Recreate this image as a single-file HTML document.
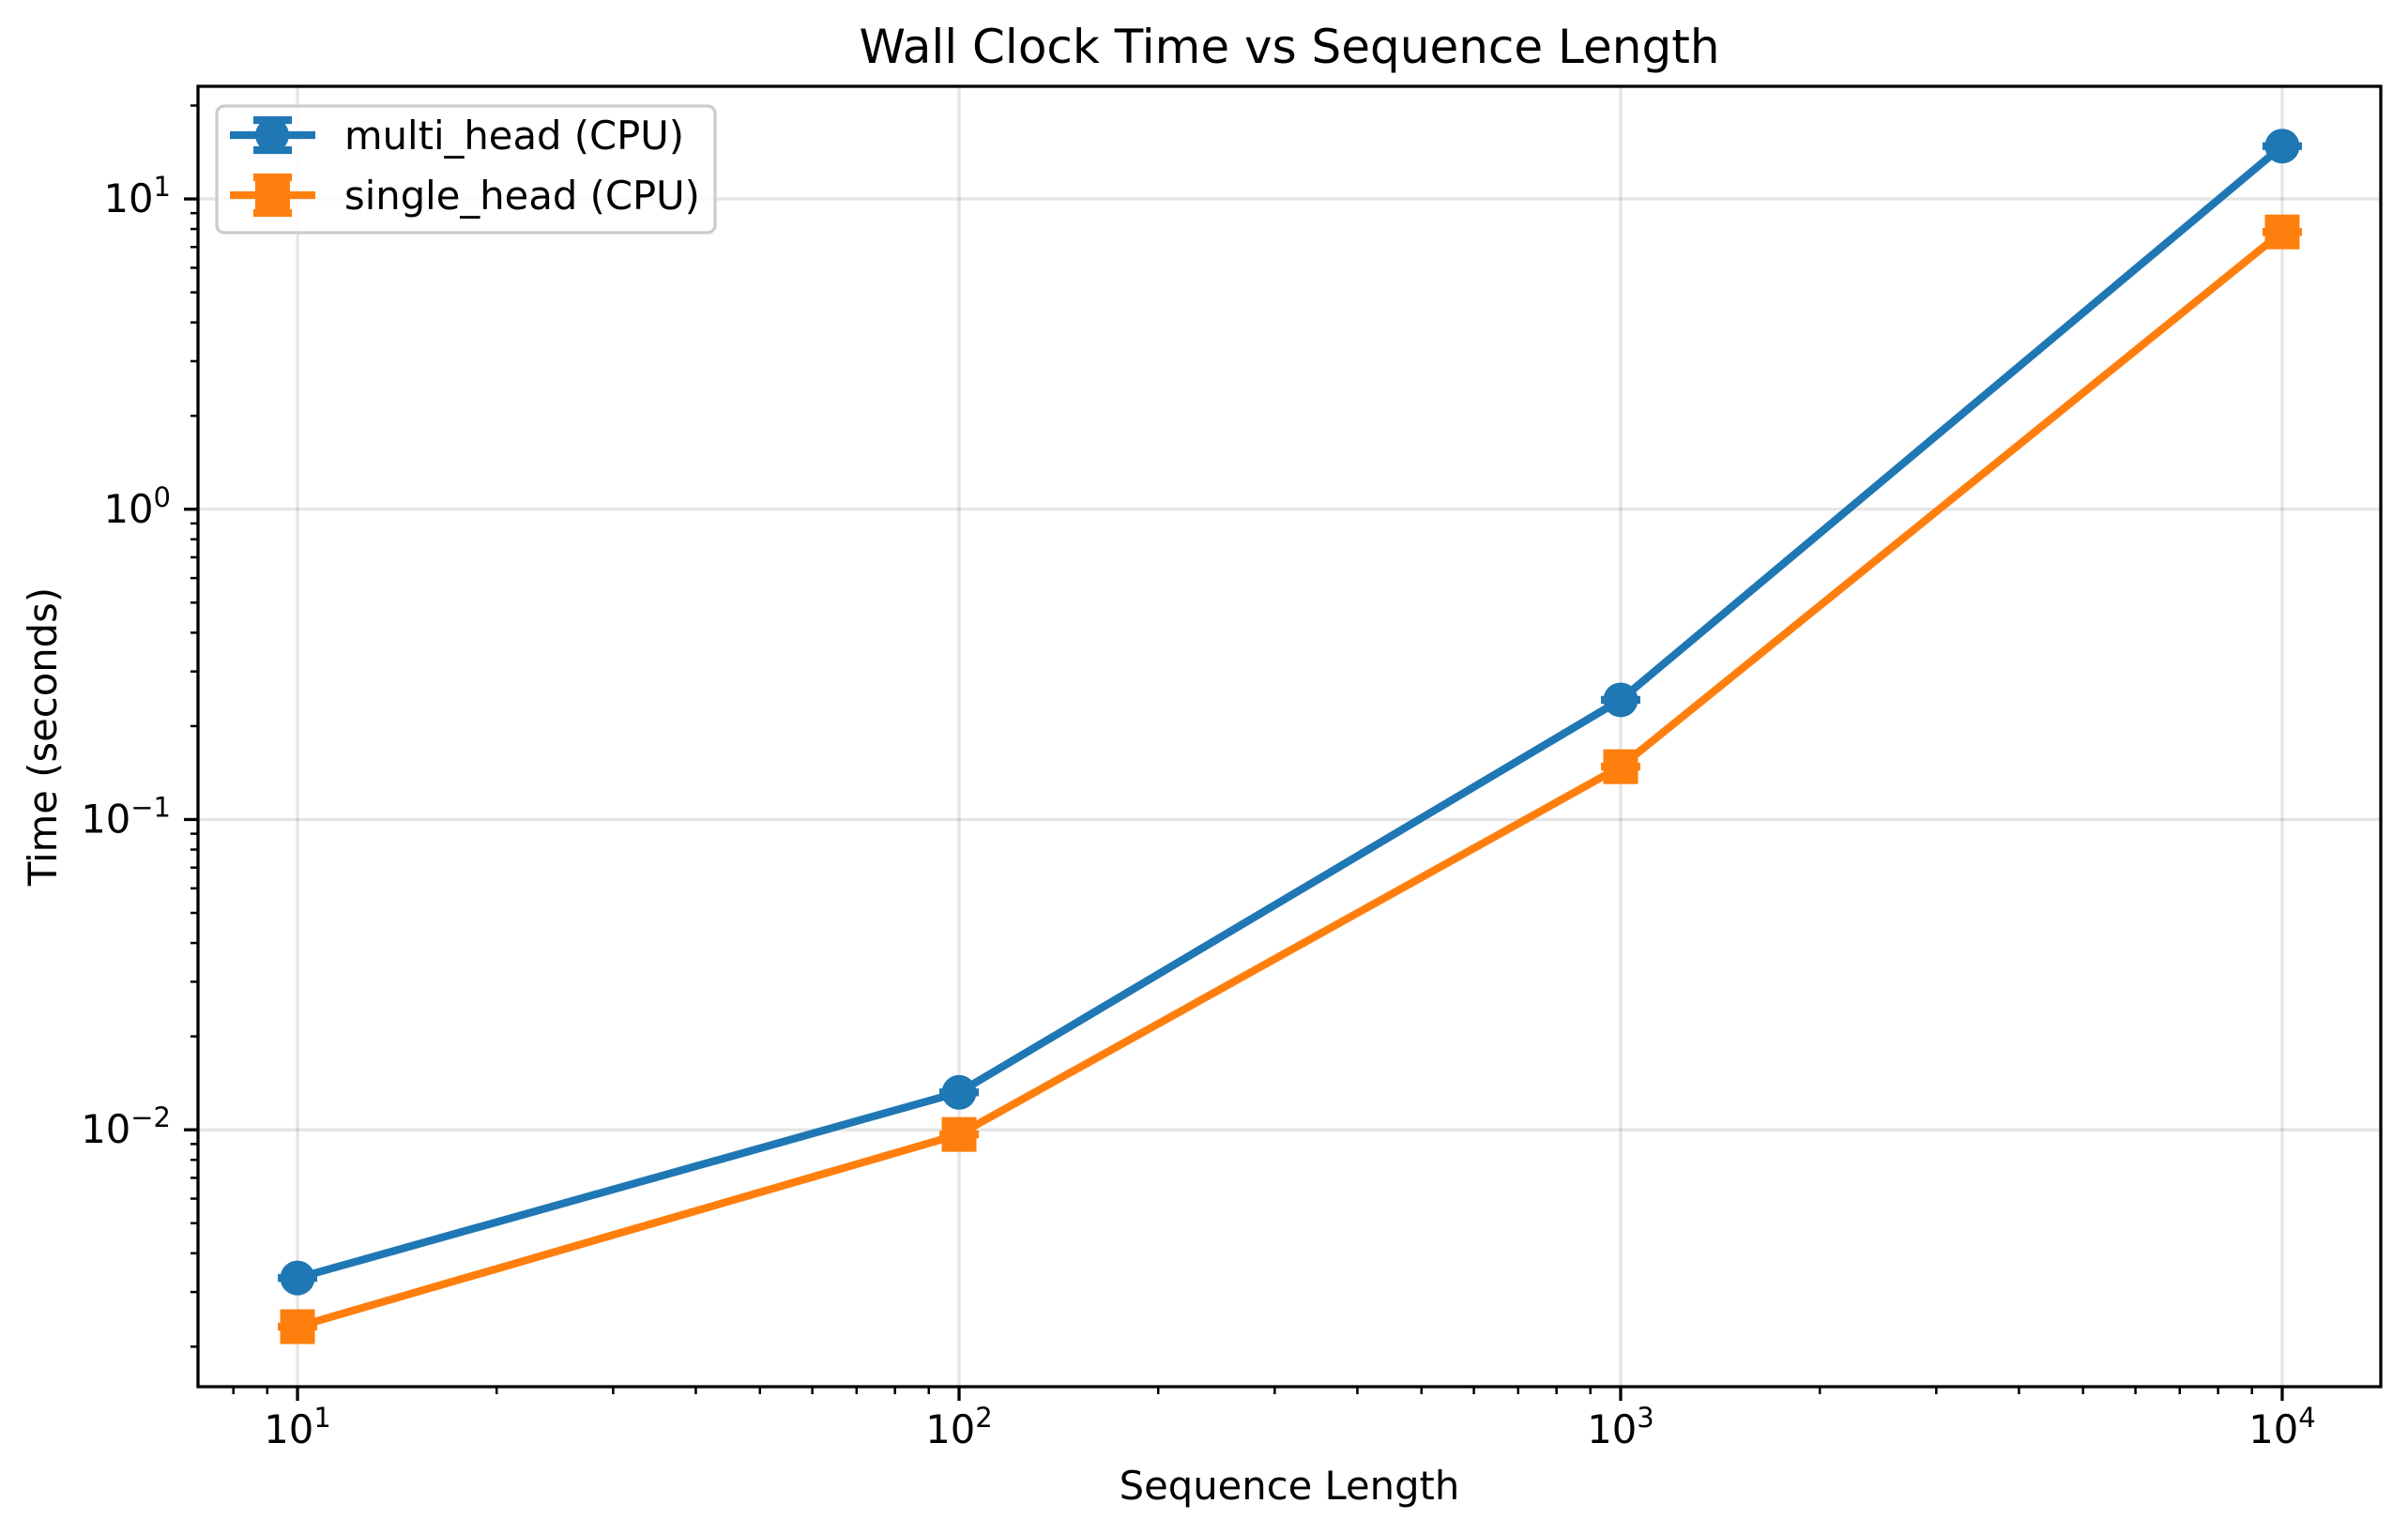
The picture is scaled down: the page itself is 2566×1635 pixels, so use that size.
<!DOCTYPE html>
<html><head><meta charset="utf-8"><style>
html,body{margin:0;padding:0;background:#fff;}
svg{display:block;font-family:"DejaVu Sans","Liberation Sans",sans-serif;}
</style></head><body>
<svg id="chart" width="2566" height="1635" viewBox="0 0 2566 1635">
<rect width="2566" height="1635" fill="#fff"/>
<g id="grid"></g>
<g id="series"></g>
<rect x="211" y="92" width="2326" height="1386" fill="none" stroke="#000" stroke-width="3.3"/>
<g id="ticks"></g>
<text x="1374" y="67" font-size="50" text-anchor="middle">Wall Clock Time vs Sequence Length</text>
<text x="1374" y="1598" font-size="41.7" text-anchor="middle">Sequence Length</text>
<text transform="translate(60,785) rotate(-90)" font-size="41.7" text-anchor="middle">Time (seconds)</text>
<g>
<rect x="231" y="113" width="531" height="135" rx="8" fill="#fff" fill-opacity="0.8" stroke="#ccc" stroke-width="3.3"/>
<g>
<line x1="245" y1="144" x2="336" y2="144" stroke="#1f77b4" stroke-width="8.3"/>
<line x1="290" y1="128" x2="290" y2="160" stroke="#1f77b4" stroke-width="8.3"/>
<line x1="270" y1="128" x2="311" y2="128" stroke="#1f77b4" stroke-width="8.3"/>
<line x1="270" y1="160" x2="311" y2="160" stroke="#1f77b4" stroke-width="8.3"/>
<circle cx="290" cy="144" r="18" fill="#1f77b4"/>
<text x="367" y="159" font-size="41.7">multi_head (CPU)</text>
</g>
<g>
<line x1="245" y1="208" x2="336" y2="208" stroke="#ff7f0e" stroke-width="8.3"/>
<line x1="270" y1="189" x2="311" y2="189" stroke="#ff7f0e" stroke-width="8.3"/>
<line x1="270" y1="227" x2="311" y2="227" stroke="#ff7f0e" stroke-width="8.3"/>
<rect x="272" y="190" width="37" height="37" fill="#ff7f0e"/>
<text x="367" y="223" font-size="41.7">single_head (CPU)</text>
</g>
</g>
</svg>
<script>
const categories = [10, 100, 1000, 10000];
const multiHead = [0.00333, 0.0132, 0.243, 14.8];
const singleHead = [0.00232, 0.00966, 0.148, 7.83];
const xTickLabels = ["1", "2", "3", "4"];
const yTickLabels = ["-2", "-1", "0", "1"];

const L=211,R=2537,T=92,B=1478;
const xmin=0.8496,xmax=4.149,ymin=-2.828,ymax=1.363;
const NS="http://www.w3.org/2000/svg";
function sx(v){return L+(Math.log10(v)-xmin)/(xmax-xmin)*(R-L);}
function sy(v){return B-(Math.log10(v)-ymin)/(ymax-ymin)*(B-T);}
function mk(tag,attrs,parent){const e=document.createElementNS(NS,tag);for(const k in attrs)e.setAttribute(k,attrs[k]);parent.appendChild(e);return e;}
const grid=document.getElementById('grid'),ticks=document.getElementById('ticks'),ser=document.getElementById('series');

xTickLabels.forEach(p=>{
  const v=Math.pow(10,+p),x=sx(v);
  const g=mk('line',{x1:x,y1:T,x2:x,y2:B,stroke:'#000','stroke-opacity':0.1,'stroke-width':3.3},grid);
  
  
  const t=mk('line',{x1:x,y1:B,x2:x,y2:B+15,stroke:'#000','stroke-width':3.3},ticks);
  
  
  const tx=mk('text',{x:x,y:1538,'font-size':41.7,'text-anchor':'middle'},ticks);
  
  
  tx.innerHTML='10<tspan dy="-17" font-size="29">'+p+'</tspan>';
});
for(let d=0;d<=4;d++)for(let m=2;m<=9;m++){
  const v=m*Math.pow(10,d),x=sx(v);if(x<L||x>R)continue;
  const t=mk('line',{x1:x,y1:B,x2:x,y2:B+8,stroke:'#000','stroke-width':2.5},ticks);
  
  
}
yTickLabels.forEach(p=>{
  const v=Math.pow(10,+p),y=sy(v);
  const g=mk('line',{x1:L,y1:y,x2:R,y2:y,stroke:'#000','stroke-opacity':0.1,'stroke-width':3.3},grid);
  
  
  const t=mk('line',{x1:L-15,y1:y,x2:L,y2:y,stroke:'#000','stroke-width':3.3},ticks);
  
  
  const tx=mk('text',{x:182,y:y+14,'font-size':41.7,'text-anchor':'end'},ticks);
  
  
  tx.innerHTML='10<tspan dy="-17" font-size="29">'+(p.startsWith('-')?'\u2212'+p.slice(1):p)+'</tspan>';
});
for(let d=-3;d<=1;d++)for(let m=2;m<=9;m++){
  const v=m*Math.pow(10,d),y=sy(v);if(y<T||y>B)continue;
  const t=mk('line',{x1:L-8,y1:y,x2:L,y2:y,stroke:'#000','stroke-width':2.5},ticks);
  
  
}
function drawSeries(vals,color,shape,name){
  const g=mk('g',{},ser);
  
  
  const pts=vals.map((v,i)=>sx(categories[i])+','+sy(v)).join(' ');
  const pl=mk('polyline',{points:pts,fill:'none',stroke:color,'stroke-width':8.3,'stroke-linejoin':'round'},g);
  
  
  vals.forEach((v,i)=>{
    const x=sx(categories[i]),y=sy(v);
    const c=mk('line',{x1:x-21,y1:y,x2:x+21,y2:y,stroke:color,'stroke-width':8.3},g);
    
    
    let m;
    if(shape==='circle') m=mk('circle',{cx:x,cy:y,r:18.5,fill:color},g);
    else m=mk('rect',{x:x-18.5,y:y-18.5,width:37,height:37,fill:color},g);
    
    
  });
}
drawSeries(multiHead,'#1f77b4','circle','multi-head');
drawSeries(singleHead,'#ff7f0e','square','single-head');
</script>
</body></html>
